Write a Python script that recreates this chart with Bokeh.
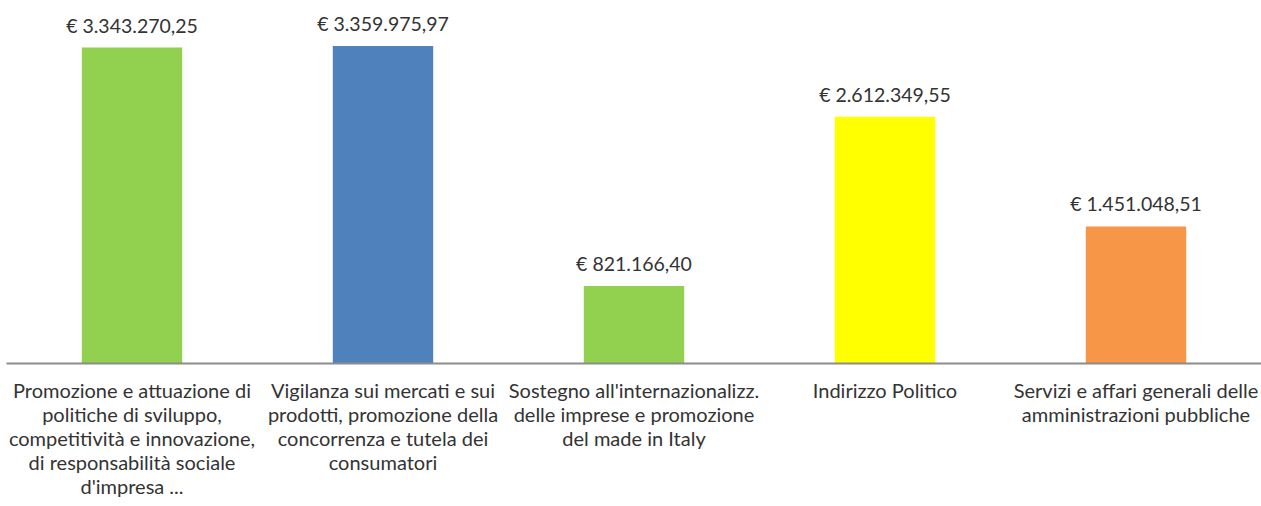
from bokeh.plotting import figure
from bokeh.models import ColumnDataSource, FactorRange, Range1d
from bokeh.embed import file_html
from bokeh.resources import INLINE
from bokeh.core.properties import value

categories = [
    "Promozione e attuazione di\npolitiche di sviluppo,\ncompetitività e innovazione,\ndi responsabilità sociale\nd'impresa ...",
    "Vigilanza sui mercati e sui\nprodotti, promozione della\nconcorrenza e tutela dei\nconsumatori",
    "Sostegno all'internazionalizz.\ndelle imprese e promozione\ndel made in Italy",
    "Indirizzo Politico",
    "Servizi e affari generali delle\namministrazioni pubbliche",
]
values = [3343270.25, 3359975.97, 821166.40, 2612349.55, 1451048.51]
value_labels = ["€ 3.343.270,25", "€ 3.359.975,97", "€ 821.166,40", "€ 2.612.349,55", "€ 1.451.048,51"]
colors = ["#92D050", "#4F81BD", "#92D050", "#FFFF00", "#F79646"]

FONT = "Lato"

src = ColumnDataSource(dict(cat=categories, val=values, lab=value_labels, col=colors))

p = figure(
    x_range=FactorRange(*categories, range_padding=0),
    y_range=Range1d(0, 3757000),
    width=1261, height=506,
    output_backend="svg", toolbar_location=None,
    min_border_top=8, min_border_left=6, min_border_right=0, min_border_bottom=143,
)
p.vbar(x="cat", top="val", width=0.4, source=src, fill_color="col", line_color=None)
p.text(x="cat", y="val", text="lab", source=src, text_align="center", text_baseline="bottom",
       y_offset=-11, text_font=value(FONT), text_font_size="19.5px", text_color="#333333")

p.outline_line_color = None
p.xgrid.visible = False
p.ygrid.visible = False
p.yaxis.visible = False
xa = p.xaxis[0]
xa.axis_line_color = "#8c8c8c"
xa.axis_line_width = 2
xa.major_tick_line_color = None
xa.minor_tick_line_color = None
xa.major_label_text_font = FONT
xa.major_label_text_font_size = "20px"
xa.major_label_text_color = "#333333"
xa.major_label_standoff = 8
xa.major_label_text_line_height = 1.0

open("out.html", "w").write(file_html(p, INLINE))
